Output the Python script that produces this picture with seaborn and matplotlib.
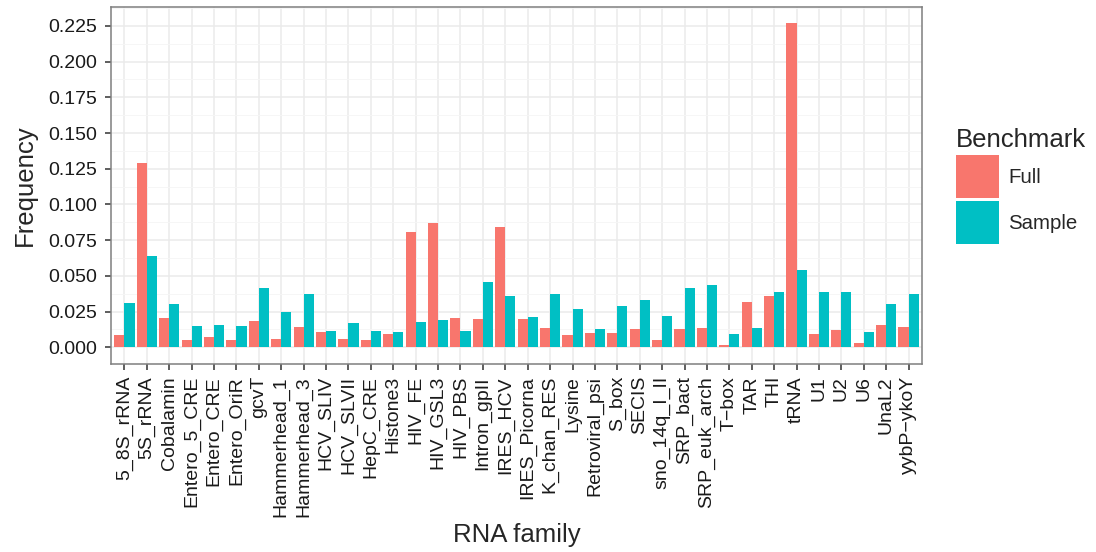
import numpy as np
import pandas as pd
import matplotlib
matplotlib.use("Agg")
import matplotlib.pyplot as plt
import seaborn as sns
from matplotlib.ticker import MultipleLocator, FormatStrFormatter

families = ["5_8S_rRNA", "5S_rRNA", "Cobalamin", "Entero_5_CRE", "Entero_CRE",
            "Entero_OriR", "gcvT", "Hammerhead_1", "Hammerhead_3", "HCV_SLIV",
            "HCV_SLVII", "HepC_CRE", "Histone3", "HIV_FE", "HIV_GSL3", "HIV_PBS",
            "Intron_gpII", "IRES_HCV", "IRES_Picorna", "K_chan_RES", "Lysine",
            "Retroviral_psi", "S_box", "SECIS", "sno_14q_I_II", "SRP_bact",
            "SRP_euk_arch", "T\u2212box", "TAR", "THI", "tRNA", "U1", "U2", "U6",
            "UnaL2", "yybP\u2212ykoY"]

full = [0.0085, 0.129, 0.0203, 0.0051, 0.0072, 0.0051, 0.0183, 0.0058, 0.0141,
        0.0106, 0.0058, 0.0051, 0.0092, 0.0808, 0.087, 0.0203, 0.0197, 0.0842,
        0.0197, 0.0134, 0.0085, 0.0099, 0.0099, 0.0127, 0.0051, 0.0127, 0.0134,
        0.0016, 0.0314, 0.0356, 0.2272, 0.0092, 0.012, 0.003, 0.0155, 0.0141]

sample = [0.031, 0.064, 0.030, 0.0148, 0.0155, 0.0148, 0.0412, 0.0245, 0.037,
          0.0113, 0.0169, 0.0113, 0.0106, 0.0176, 0.019, 0.0113, 0.046, 0.0356,
          0.021, 0.037, 0.0266, 0.0127, 0.0287, 0.0328, 0.0217, 0.0412, 0.0433,
          0.0092, 0.0134, 0.039, 0.0544, 0.039, 0.039, 0.0106, 0.030, 0.037]

benchmarks = ["Full", "Sample"]
colors = ["#F8766D", "#00BFC4"]

df = pd.DataFrame({
    "family": families * 2,
    "freq": full + sample,
    "Benchmark": [benchmarks[0]] * len(families) + [benchmarks[1]] * len(families),
})

sns.set_theme(style="white")
plt.rcParams["font.family"] = ["Liberation Sans", "DejaVu Sans"]

fig = plt.figure(figsize=(10.96, 5.52), dpi=100)
ax = fig.add_axes([111 / 1096, 1 - 363.5 / 552, (922 - 111) / 1096, (363.5 - 6.5) / 552])

sns.barplot(data=df, x="family", y="freq", hue="Benchmark", order=families,
            hue_order=benchmarks, palette=colors, width=0.9, gap=0,
            saturation=1, errorbar=None, ax=ax, zorder=3, linewidth=0)

n = len(families)
ax.set_xlim(-0.6, n - 1 + 0.6)
ymax = max(full + sample)
pad = ymax * 0.05
ax.set_ylim(-pad, ymax + pad)

ax.yaxis.set_major_locator(MultipleLocator(0.025))
ax.yaxis.set_minor_locator(MultipleLocator(0.0125))
ax.yaxis.set_major_formatter(FormatStrFormatter("%.3f"))

ax.grid(which="major", axis="both", color="#EBEBEB", linewidth=1.1, zorder=0)
ax.grid(which="minor", axis="y", color="#F5F5F5", linewidth=0.6, zorder=0)
ax.set_axisbelow(True)

for s in ax.spines.values():
    s.set_color("#7F7F7F")
    s.set_linewidth(1.1)

ax.tick_params(axis="both", which="major", length=4.5, width=1.1, color="#333333",
               labelcolor="#1a1a1a", labelsize=14, left=True, bottom=True)
ax.tick_params(axis="y", which="major", pad=5.5)
ax.tick_params(axis="x", which="major", pad=4.5)
ax.tick_params(axis="y", which="minor", length=0)
ax.set_xticks(range(n))
ax.set_xticklabels(families, rotation=90, ha="center", va="top")

ax.set_xlabel("RNA family", fontsize=18.5, va="center")
ax.set_ylabel("Frequency", fontsize=18.5, va="center")
ax.xaxis.set_label_coords(0.5, (363.5 - 535) / 357)
ax.yaxis.set_label_coords((25 - 111) / 811, 0.5)

ax.legend_.remove()
handles = [plt.Rectangle((0, 0), 1, 1, facecolor=c, edgecolor="none") for c in colors]
leg = fig.legend(handles, benchmarks, title="Benchmark", loc="upper left",
                 bbox_to_anchor=(956 / 1096, 1 - 128 / 552), frameon=False,
                 fontsize=14.7, title_fontsize=18.5, handlelength=2.1,
                 handleheight=2.87, labelspacing=0.15, handletextpad=0.45,
                 borderaxespad=0, borderpad=0)
leg._legend_box.align = "left"

fig.savefig("out.png", dpi=100, facecolor="white")
